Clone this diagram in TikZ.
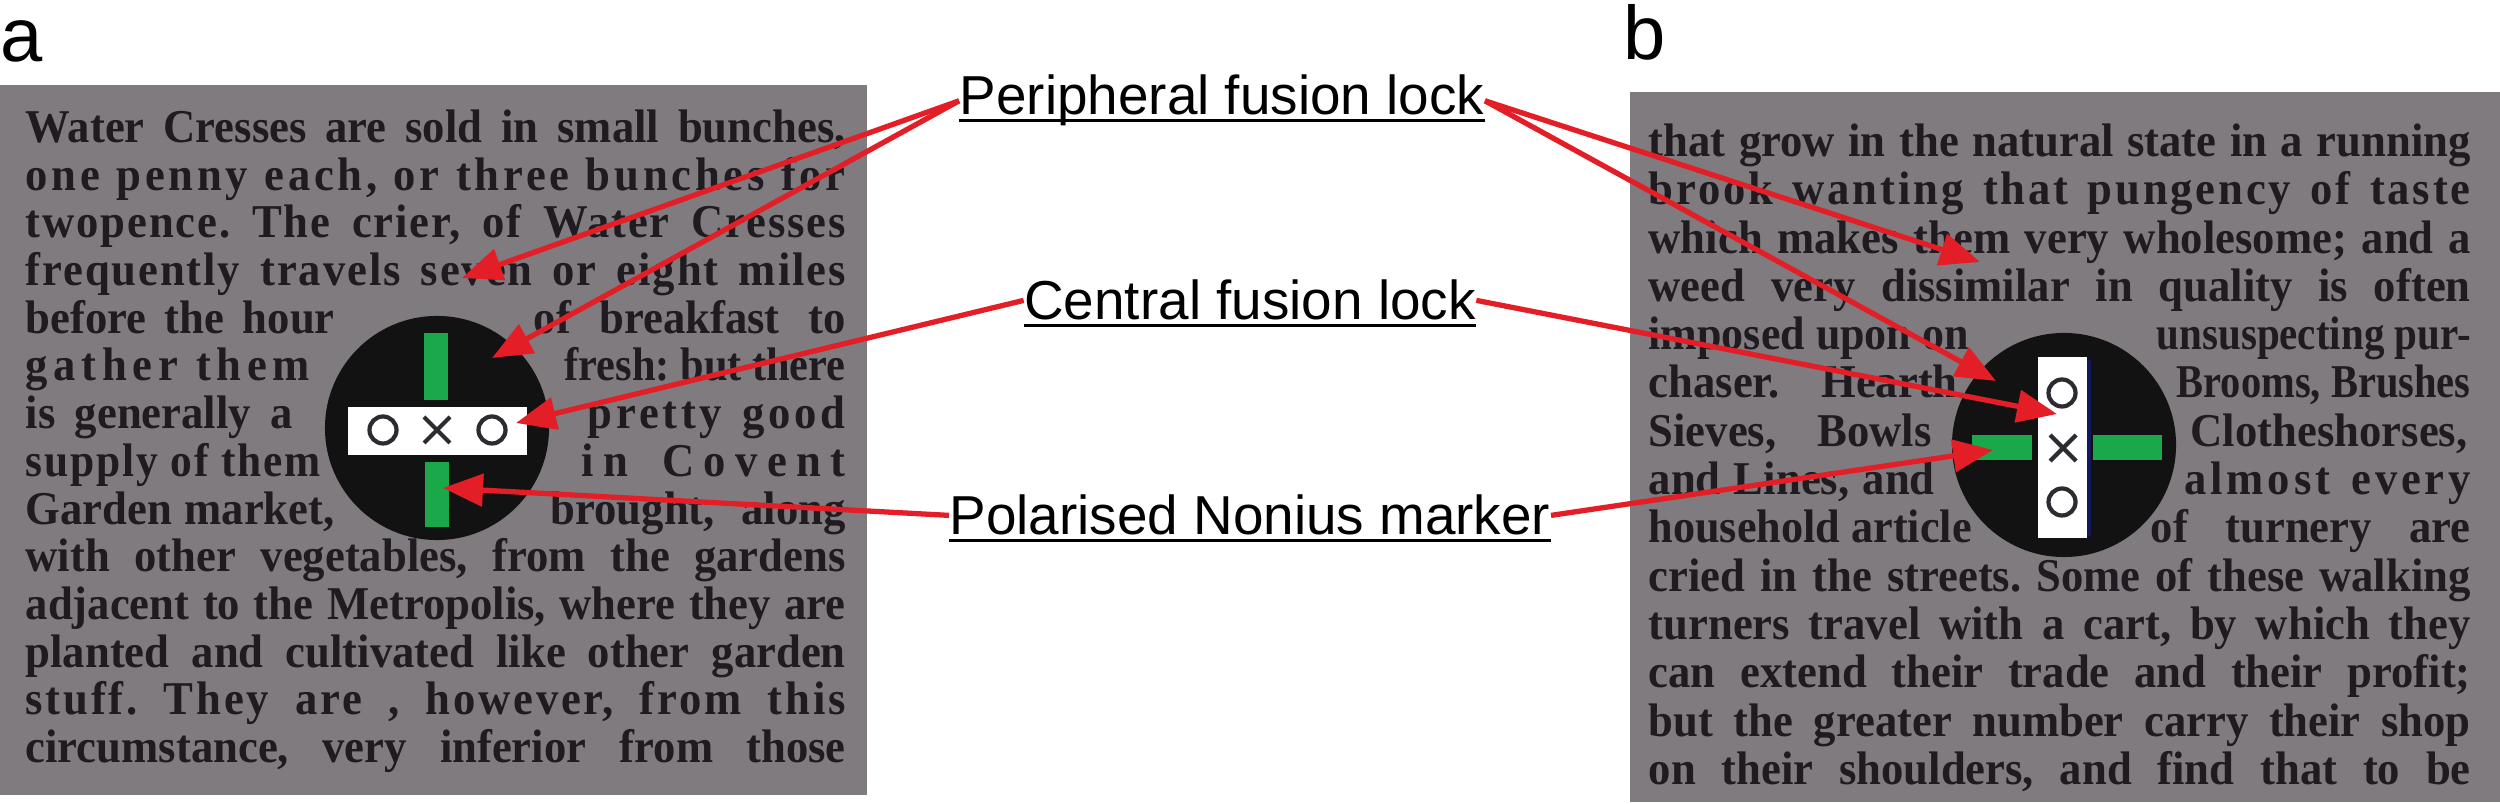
\documentclass[tikz,border=0pt]{standalone}
\usepackage{fontspec}
\usepackage{graphicx}
\usetikzlibrary{arrows.meta}
\setmainfont{Liberation Sans}
\newfontfamily\bodyfont{Liberation Serif}[FakeStretch=0.95]
\definecolor{panelgray}{RGB}{127,123,126}
\definecolor{inkdark}{RGB}{32,27,32}
\definecolor{arrowred}{RGB}{228,30,38}
\definecolor{lockgreen}{RGB}{26,168,74}
\definecolor{ringgray}{RGB}{45,42,48}
\definecolor{edgenavy}{RGB}{20,24,90}
\newdimen\px \px=0.01cm
\newsavebox\jlbox
\newcommand\jline[2]{\sbox\jlbox{#2}\ifdim\wd\jlbox>#1\px\resizebox{#1\px}{\height}{\usebox\jlbox}\else\makebox[#1\px][s]{#2}\fi}
\newcommand\txtline[6][0]{\node[txt] (#2) at (#3,#4) {\jline{#5}{\addfontfeature{LetterSpace=#1}#6}};}
\tikzset{
  txt/.style={anchor=base west, inner sep=0pt, text=inkdark,
    font=\bodyfont\bfseries\fontsize{13.37}{13.37}\selectfont\frenchspacing},
  lbl/.style={anchor=base, inner xsep=0pt, inner ysep=0pt,
    font=\fontsize{15.6}{15.6}\selectfont},
  uline/.style={line width=0.9pt},
  panelletter/.style={anchor=base west, inner sep=0pt,
    font=\fontsize{21.6}{21.6}\selectfont},
  arr/.style={draw=arrowred, line width=1.5pt,
    -{Triangle[length=0.4cm,width=0.32cm]}},
  ring/.style={draw=ringgray, line width=1.2pt},
}
\begin{document}
\begin{tikzpicture}[x=0.01cm,y=-0.01cm]
\useasboundingbox (0,0) rectangle (2500,804);
\fill[white] (0,0) rectangle (2500,804);
% panels
\fill[panelgray] (0,85) rectangle (867,795);
\fill[panelgray] (1630,92) rectangle (2500,802);
% panel letters
\node[panelletter] (la) at (0,62) {a};
\node[panelletter] (lb) at (1623,60) {b};
% ---- panel a text ----
\txtline{a1}{25}{143}{820}{Water Cresses are sold in small bunches,}
\txtline[8]{a2}{25}{191}{820}{one penny each, or three bunches for}
\txtline[4]{a3}{25}{238}{820}{twopence. The crier, of Water Cresses}
\txtline[4]{a4}{25}{286}{820}{frequently travels seven or eight miles}
\txtline{a5l}{25}{334}{309}{before the hour}
\txtline{a5r}{533}{334}{312}{of breakfast to}
\txtline[12]{a6l}{25}{381}{284}{gather them}
\txtline{a6r}{564}{381}{281}{fresh: but there}
\txtline{a7l}{25}{429}{267}{is generally a}
\txtline[8]{a7r}{587}{429}{258}{pretty good}
\txtline[4]{a8l}{25}{477}{295}{supply of them}
\txtline[20]{a8r}{581}{477}{264}{in Covent}
\txtline{a9l}{25}{525}{309}{Garden market,}
\txtline{a9r}{550}{525}{295}{brought, along}
\txtline{a10}{25}{572}{820}{with other vegetables, from the gardens}
\txtline{a11}{25}{620}{820}{adjacent to the Metropolis, where they are}
\txtline{a12}{25}{668}{820}{planted and cultivated like other garden}
\txtline[6]{a13}{25}{715}{820}{stuff. They are , however, from this}
\txtline{a14}{25}{763}{820}{circumstance, very inferior from those}
% ---- panel b text ----
\txtline{b1}{1648}{157}{822}{that grow in the natural state in a running}
\txtline[6]{b2}{1648}{205}{822}{brook wanting that pungency of taste}
\txtline{b3}{1648}{254}{822}{which makes them very wholesome; and a}
\txtline{b4}{1648}{302}{822}{weed very dissimilar in quality is often}
\txtline{b5l}{1648}{350}{320}{imposed upon on}
\txtline{b5r}{2156}{350}{314}{unsuspecting pur-}
\txtline{b6l}{1648}{398}{309}{chaser. Hearth}
\txtline{b6r}{2176}{398}{294}{Brooms, Brushes}
\txtline{b7l}{1648}{447}{283}{Sieves, Bowls}
\txtline{b7r}{2190}{447}{280}{Clotheshorses,}
\txtline{b8l}{1648}{495}{286}{and Lines, and}
\txtline[8]{b8r}{2184}{495}{286}{almost every}
\txtline{b9l}{1648}{543}{323}{household article}
\txtline{b9r}{2150}{543}{320}{of turnery are}
\txtline{b10}{1648}{592}{822}{cried in the streets. Some of these walking}
\txtline{b11}{1648}{640}{822}{turners travel with a cart, by which they}
\txtline{b12}{1648}{688}{822}{can extend their trade and their profit;}
\txtline{b13}{1648}{737}{822}{but the greater number carry their shop}
\txtline{b14}{1648}{785}{822}{on their shoulders, and find that to be}
% ---- panel a marker ----
\fill[black!93] (437,428) circle[radius=1.12cm];
\fill[lockgreen] (424,333) rectangle (448,400);
\fill[lockgreen] (425,462) rectangle (449,527);
\fill[white] (348,407) rectangle (527,455);
\draw[ring] (383,430) circle[radius=0.135cm];
\draw[ring] (424,417) -- (450,443) (424,443) -- (450,417);
\draw[ring] (492,430) circle[radius=0.135cm];
% ---- panel b marker ----
\fill[black!93] (2064,445) circle[radius=1.12cm];
\fill[lockgreen] (1972,435) rectangle (2032,460);
\fill[lockgreen] (2093,435) rectangle (2162,460);
\fill[white] (2038,357) rectangle (2087,538);
\draw[edgenavy, line width=1pt] (2089,360) -- (2089,536);
\draw[ring] (2062,393) circle[radius=0.135cm];
\draw[ring] (2050,435) -- (2076,461) (2050,461) -- (2076,435);
\draw[ring] (2062,502) circle[radius=0.135cm];
% ---- labels ----
\node[lbl] (per) at (1222,115) {Peripheral fusion lock};
\node[lbl] (cen) at (1250,320) {Central fusion lock};
\node[lbl] (pol) at (1250,535) {Polarised Nonius marker};
\foreach \n in {per,cen,pol}
  \draw[uline] ([yshift=-1.6pt]\n.base west) -- ([yshift=-1.6pt]\n.base east);
% ---- arrow targets ----
\coordinate (tPa1) at (462,278);
\coordinate (tPa2) at (492,358);
\coordinate (tCa) at (516,423);
\coordinate (tNa) at (443,488);
\coordinate (tPb1) at (1980,262);
\coordinate (tPb2) at (1996,381);
\coordinate (tCb) at (2057,414);
\coordinate (tNb) at (1993,450);
% ---- arrows ----
\draw[arr] (per.west) -- (tPa1);
\draw[arr] (per.west) -- (tPa2);
\draw[arr] (per.east) -- (tPb1);
\draw[arr] (per.east) -- (tPb2);
\draw[arr] (cen.west) -- (tCa);
\draw[arr] (cen.east) -- (tCb);
\draw[arr] (pol.west) -- (tNa);
\draw[arr] (pol.east) -- (tNb);
\end{tikzpicture}
\end{document}
